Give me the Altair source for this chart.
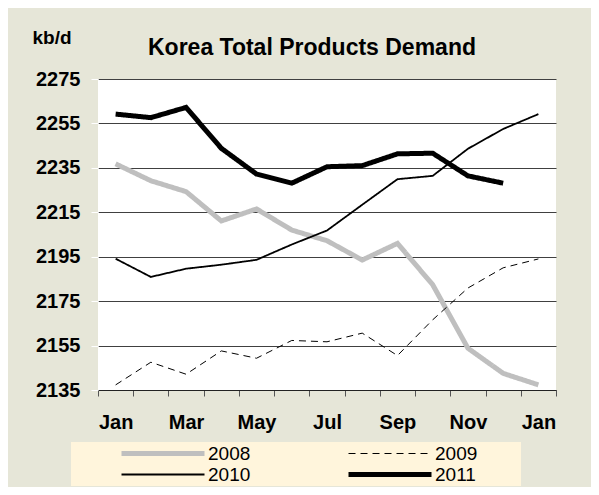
import json
import altair as alt
import pandas as pd

# ---- data ----
months = ["Jan", "Feb", "Mar", "Apr", "May", "Jun", "Jul", "Aug", "Sep", "Oct", "Nov", "Dec", "Jan"]
years = ["2008", "2009", "2010", "2011"]
v2008 = [2236.8, 2229.2, 2224.3, 2211.1, 2216.5, 2207.0, 2202.2, 2193.5, 2201.0, 2182.4, 2153.8, 2142.5, 2137.3]
v2009 = [2137.3, 2147.5, 2142.1, 2152.6, 2149.3, 2157.3, 2156.7, 2160.6, 2150.5, 2166.6, 2180.9, 2190.0, 2194.0]
v2010 = [2194.1, 2185.9, 2189.6, 2191.4, 2193.6, 2200.5, 2206.8, 2218.4, 2229.9, 2231.4, 2243.6, 2252.5, 2259.2]
v2011 = [2259.2, 2257.6, 2262.2, 2243.8, 2232.2, 2228.1, 2235.5, 2236.0, 2241.3, 2241.6, 2231.4, 2228.1]
y_ticks = [2135, 2155, 2175, 2195, 2215, 2235, 2255, 2275]

rows = []
for yr, vals in zip(years, [v2008, v2009, v2010, v2011]):
    for i, v in enumerate(vals):
        rows.append({"year": yr, "m": i, "value": v})
df = pd.DataFrame(rows)

FONT = "Liberation Sans"
W, H = 458, 311
n_bands = len(months)
label_expr = (
    "datum.value % 2 == 0 && datum.value < " + str(n_bands)
    + " ? " + json.dumps(months) + "[datum.value] : ''"
)
# trailing non-breaking spaces (kept from trimming by a zero-width space) widen the legend box
PAD = "\u00a0" * 8 + "\u200b"

legend = alt.Legend(
    title=None,
    orient="none",
    legendX=-27,
    legendY=363,
    columns=2,
    direction="horizontal",
    fillColor="#FFF5DC",
    padding=1,
    symbolType="stroke",
    symbolSize=6889,
    clipHeight=21,
    rowPadding=0,
    columnPadding=6,
    symbolOffset=47,
    labelOffset=1,
    labelFont=FONT,
    labelFontSize=19,
    labelColor="#000000",
    labelLimit=300,
    labelExpr="datum.label + '" + PAD + "'",
)

chart = (
    alt.Chart(df)
    .transform_calculate(xpos="datum.m + 0.5")
    .mark_line()
    .encode(
        x=alt.X(
            "xpos:Q",
            scale=alt.Scale(domain=[0, n_bands], nice=False, zero=False),
            axis=alt.Axis(
                values=list(range(n_bands + 1)),
                labelExpr=label_expr,
                labelOffset=W / n_bands / 2,
                labelFlush=False,
                labelOverlap=False,
                labelBound=False,
                labelFont=FONT,
                labelFontSize=20,
                labelFontWeight="bold",
                labelColor="#000000",
                labelPadding=16,
                labelBaseline="top",
                tickSize=6,
                tickColor="#555555",
                domainColor="#222222",
                domainWidth=1,
                grid=False,
                title=None,
            ),
        ),
        y=alt.Y(
            "value:Q",
            scale=alt.Scale(domain=[2135, 2275], nice=False, zero=False),
            axis=alt.Axis(
                values=y_ticks,
                format="d",
                grid=True,
                gridColor="#404040",
                gridWidth=1,
                domain=False,
                tickColor="#FFFFFF",
                tickSize=7,
                labelPadding=11,
                labelFont=FONT,
                labelFontSize=20,
                labelFontWeight="bold",
                labelColor="#000000",
                title="kb/d",
                titleAngle=0,
                titleX=-66,
                titleY=-36,
                titleAlign="left",
                titleBaseline="alphabetic",
                titleFont=FONT,
                titleFontSize=19,
                titleFontWeight="bold",
                titleColor="#000000",
            ),
        ),
        stroke=alt.Stroke(
            "year:N",
            scale=alt.Scale(domain=years, range=["#BFBFBF", "#000000", "#000000", "#000000"]),
            legend=legend,
        ),
        strokeDash=alt.StrokeDash(
            "year:N",
            scale=alt.Scale(domain=years, range=[[1, 0], [7, 5], [1, 0], [1, 0]]),
            legend=legend,
        ),
        strokeWidth=alt.StrokeWidth(
            "year:N",
            scale=alt.Scale(type="ordinal", domain=years, range=[5, 1, 1.8, 5]),
            legend=legend,
        ),
    )
    .properties(
        width=W,
        height=H,
        autosize=alt.AutoSizeParams(type="none"),
        padding={"left": 90, "top": 71, "right": 35, "bottom": 97},
        background="#E6E6D8",
        title=alt.Title(
            "Korea Total Products Demand",
            font=FONT,
            fontSize=23,
            fontWeight="bold",
            color="#000000",
            anchor="middle",
            frame="group",
            baseline="alphabetic",
            offset=0,
            dx=-15,
            dy=50,
        ),
    )
    .configure_view(fill="#FFFFFF", strokeWidth=0)
)

chart.save("out.html", embed_options={"renderer": "svg", "actions": False})
